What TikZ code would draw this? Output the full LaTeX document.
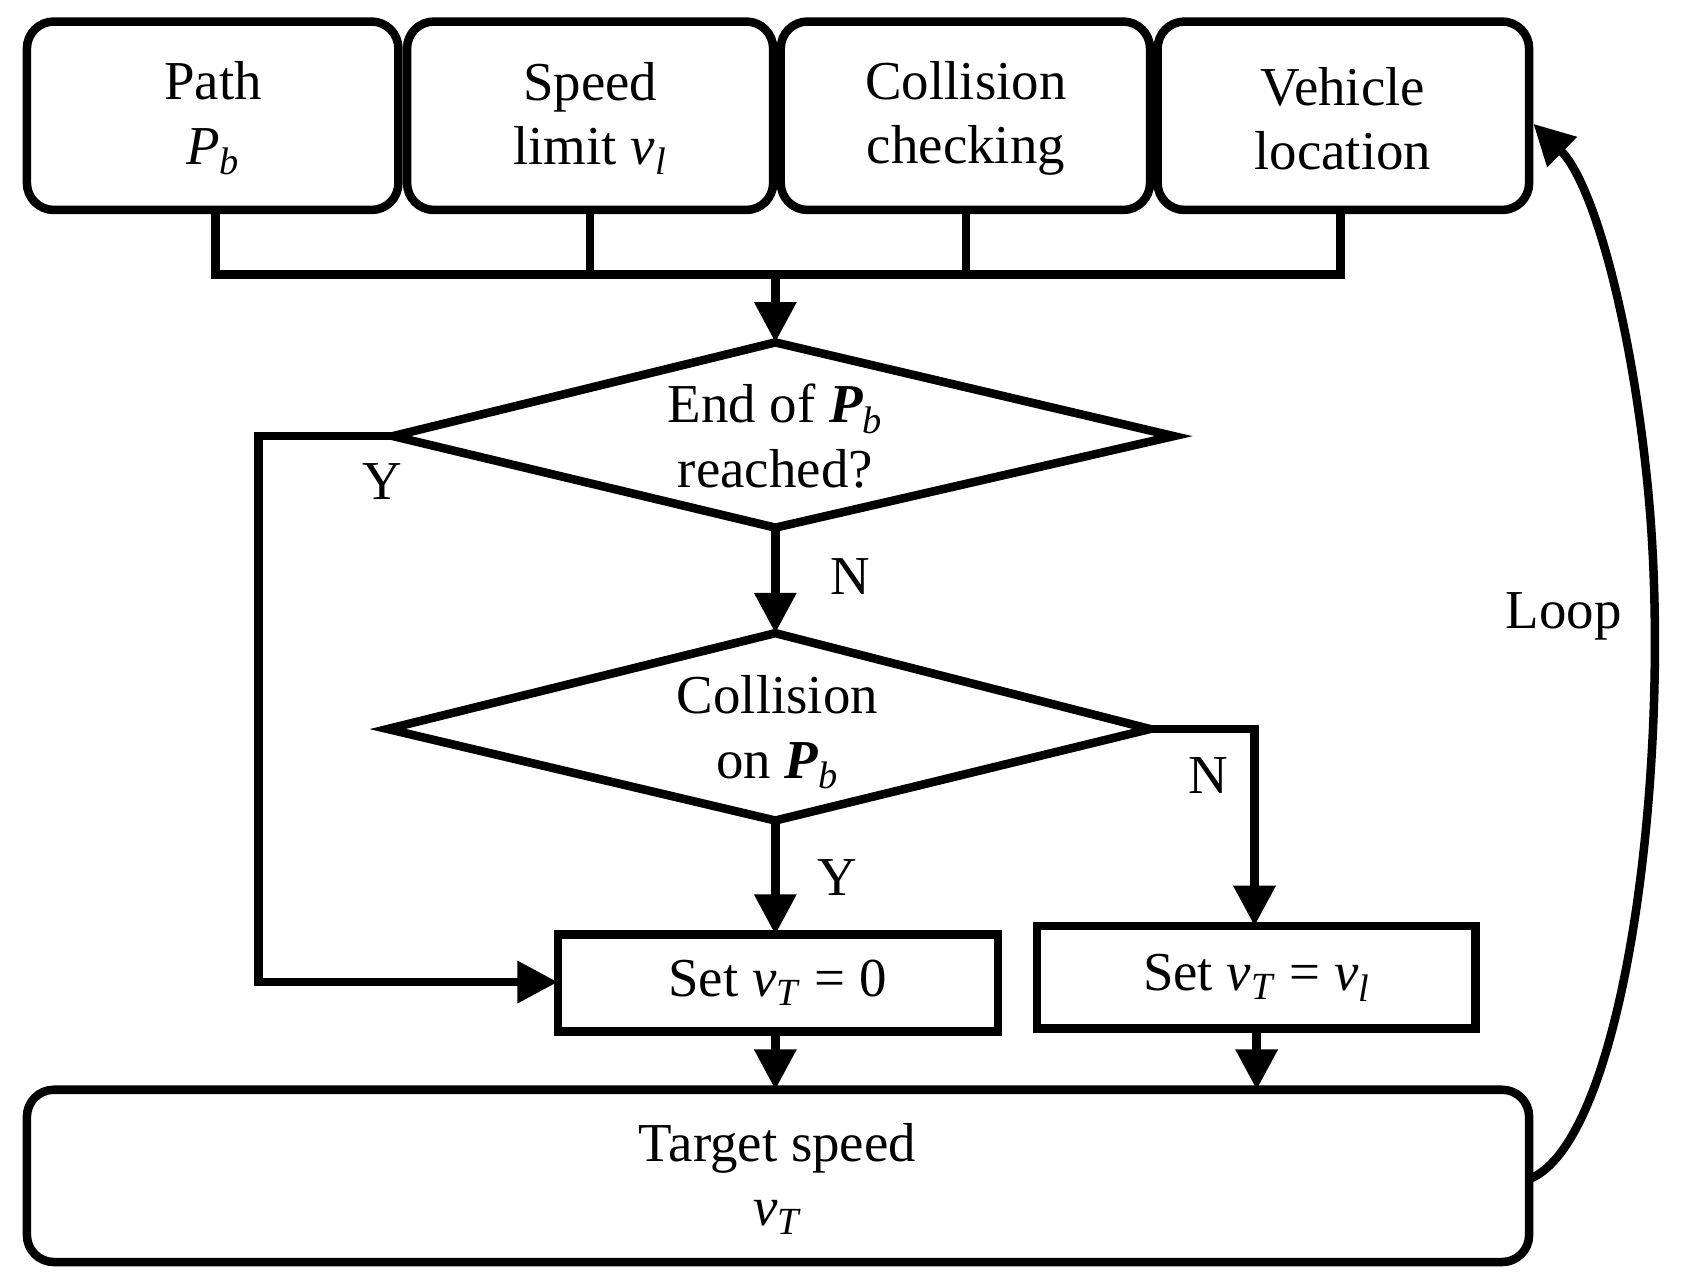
\documentclass[tikz,border=0pt]{standalone}
\usepackage{fontspec}
\setmainfont{Liberation Serif}
\usetikzlibrary{arrows.meta}
\newcommand{\vv}[1]{\textit{v}\textsubscript{\textit{#1}}}
\begin{document}
\begin{tikzpicture}[x=0.02cm,y=-0.02cm,
  every node/.style={font=\fontsize{29}{34}\selectfont},
  ln/.style={line width=4.5pt},
  box/.style={ln, rounded corners=0.5cm},
  arr/.style={ln,-{Triangle[length=0.75cm,width=0.75cm]}}]
\useasboundingbox (0,0) rectangle (1562,1192);
% top boxes
\draw[box] (25,20) rectangle (370,195);
\draw[box] (378,20) rectangle (718,195);
\draw[box] (725,20) rectangle (1068,195);
\draw[box] (1075,20) rectangle (1420,195);
\node[align=center] (t1) at (198,110) {Path\\\textit{P}\textsubscript{\textit{b}}};
\node[align=center] (t2) at (548,110) {Speed\\limit \vv{l}};
\node[align=center] (t3) at (897,110) {Collision\\checking};
\node[align=center] (t4) at (1247,110) {Vehicle\\location};
\coordinate (b1) at (200,195); \coordinate (b2) at (548,195);
\coordinate (b3) at (897,195); \coordinate (b4) at (1245,195);
\draw[ln] (b1) |- (b4 |- 0,255) -- (b4);
\draw[ln] (b2) -- (b2 |- 0,255);
\draw[ln] (b3) -- (b3 |- 0,255);
\coordinate (j) at (720,255);
% diamond 1
\coordinate (d1t) at (720,318); \coordinate (d1b) at (720,490);
\coordinate (d1l) at (365,405); \coordinate (d1r) at (1090,405);
\draw[ln] (d1t) -- (d1r) -- (d1b) -- (d1l) -- cycle;
\draw[arr] (j) -- (d1t);
\node[align=center] (q1) at (720,405) {End of \textbf{\textit{P}}\textsubscript{\textit{b}}\\reached?};
% diamond 2
\coordinate (d2t) at (720,588); \coordinate (d2b) at (720,762);
\coordinate (d2l) at (360,677); \coordinate (d2r) at (1068,677);
\draw[ln] (d2t) -- (d2r) -- (d2b) -- (d2l) -- cycle;
\node[align=center] (q2) at (722,680) {Collision\\on \textbf{\textit{P}}\textsubscript{\textit{b}}};
\draw[arr] (d1b) -- (d2t);
\node (n1) at (790,535) {N};
% set boxes
\draw[ln] (518,868) rectangle (927,958);
\node (s0) at (722,913) {Set \vv{T} = 0};
\draw[ln] (963,860) rectangle (1370,955);
\node (sl) at (1167,908) {Set \vv{T} = \vv{l}};
\coordinate (s0t) at (720,868); \coordinate (s0l) at (518,912);
\coordinate (slt) at (1165,860);
\draw[arr] (d2b) -- (s0t);
\node (y2) at (778,815) {Y};
\draw[arr] (d2r) -| (slt);
\node (n2) at (1122,720) {N};
\draw[arr] (d1l) -- (240,405) |- (s0l);
\node (y1) at (355,447) {Y};
% bottom
\draw[box] (25,1012) rectangle (1420,1172);
\node[align=center] (ts) at (722,1095) {Target speed\\\vv{T}};
\draw[arr] (720,958) -- (720,1012);
\draw[arr] (1167,955) -- (1167,1012);
% loop
\coordinate (lo) at (1420,1095); \coordinate (li) at (1424,115);
\draw[arr] (lo) .. controls (1510,1060) and (1555,700) .. (1530,450) .. controls (1515,300) and (1480,170) .. (li);
\node (lp) at (1452,572) {Loop};
\end{tikzpicture}
\end{document}
